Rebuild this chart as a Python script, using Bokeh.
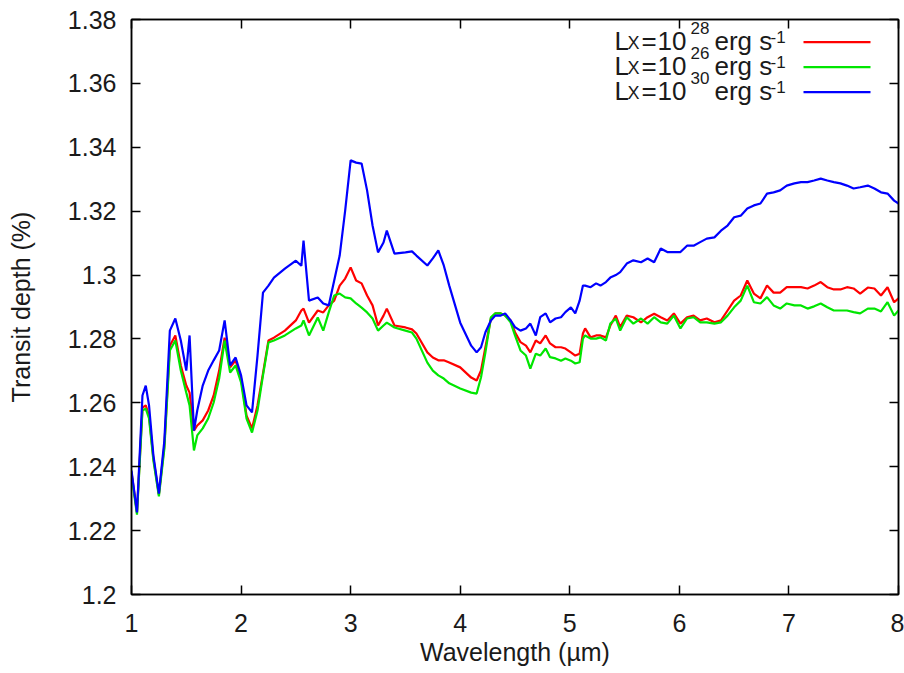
from bokeh.plotting import figure
from bokeh.models import (LinearAxis, FixedTicker, CustomJSTickFormatter, Label,
                          Arrow, Range1d)
from bokeh.embed import file_html
from bokeh.resources import INLINE

# ---------------- data ----------------
wl_a = [1.00, 1.05, 1.10, 1.13, 1.16, 1.20, 1.25, 1.30, 1.35, 1.40,
        1.45, 1.50, 1.53, 1.57, 1.60, 1.65, 1.70, 1.75, 1.80, 1.85,
        1.90, 1.95, 2.00, 2.05, 2.10, 2.15, 2.20, 2.25, 2.30, 2.40,
        2.50, 2.55, 2.57, 2.62, 2.70, 2.75, 2.80, 2.85, 2.90, 2.95,
        3.00, 3.05, 3.10, 3.15, 3.20, 3.25, 3.30, 3.33, 3.40, 3.50,
        3.56, 3.60, 3.70, 3.75, 3.80, 3.85, 3.90, 4.00, 4.10, 4.15]
wl_b = [4.19, 4.23, 4.28, 4.32, 4.37, 4.41, 4.46, 4.50, 4.55, 4.60,
        4.64, 4.69, 4.73, 4.78, 4.82, 4.87, 4.92, 4.96, 5.01, 5.05,
        5.09, 5.12, 5.14, 5.19, 5.24, 5.28, 5.33, 5.37, 5.42]
wl_c = [5.46, 5.52, 5.58, 5.65, 5.71, 5.77, 5.83, 5.89, 5.95, 6.01,
        6.07, 6.13, 6.19, 6.25, 6.32, 6.38, 6.44, 6.50, 6.56, 6.62,
        6.68, 6.74, 6.80, 6.86, 6.92, 6.98, 7.05, 7.11, 7.17, 7.23,
        7.29, 7.35, 7.41, 7.47, 7.53, 7.59, 7.65, 7.72, 7.78, 7.84,
        7.90, 7.96, 8.00]

# L_X = 1e28 erg/s (red)
depth_lx28_a = [1.2382, 1.2257, 1.2585, 1.2592, 1.2560, 1.2426, 1.2313, 1.2466, 1.2779, 1.2811,
                1.2717, 1.2654, 1.2632, 1.2513, 1.2529, 1.2545, 1.2576, 1.2623, 1.2701, 1.2804,
                1.2711, 1.2733, 1.2676, 1.2560, 1.2520, 1.2592, 1.2692, 1.2795, 1.2804, 1.2826,
                1.2858, 1.2889, 1.2895, 1.2851, 1.2889, 1.2883, 1.2905, 1.2920, 1.2967, 1.2989,
                1.3024, 1.2983, 1.2974, 1.2936, 1.2905, 1.2842, 1.2873, 1.2895, 1.2842, 1.2836,
                1.2830, 1.2817, 1.2758, 1.2742, 1.2733, 1.2733, 1.2726, 1.2711, 1.2679, 1.2670]
depth_lx28_b = [1.2701, 1.2774, 1.2864, 1.2880, 1.2880, 1.2873, 1.2858, 1.2821, 1.2790, 1.2779,
                1.2758, 1.2795, 1.2786, 1.2811, 1.2786, 1.2774, 1.2774, 1.2770, 1.2758, 1.2748,
                1.2754, 1.2817, 1.2833, 1.2805, 1.2811, 1.2811, 1.2805, 1.2842, 1.2873]
depth_lx28_c = [1.2837, 1.2873, 1.2868, 1.2852, 1.2868, 1.2879, 1.2868, 1.2858, 1.2880, 1.2848,
                1.2868, 1.2873, 1.2858, 1.2864, 1.2852, 1.2858, 1.2889, 1.2920, 1.2936, 1.2983,
                1.2942, 1.2927, 1.2967, 1.2945, 1.2945, 1.2962, 1.2962, 1.2962, 1.2958, 1.2967,
                1.2978, 1.2962, 1.2955, 1.2955, 1.2962, 1.2958, 1.2942, 1.2961, 1.2958, 1.2936,
                1.2962, 1.2915, 1.2927]

# L_X = 1e26 erg/s (green)
depth_lx26_a = [1.2375, 1.2250, 1.2576, 1.2582, 1.2551, 1.2419, 1.2307, 1.2457, 1.2764, 1.2795,
                1.2701, 1.2632, 1.2592, 1.2451, 1.2498, 1.2520, 1.2551, 1.2601, 1.2676, 1.2795,
                1.2695, 1.2717, 1.2664, 1.2551, 1.2507, 1.2576, 1.2686, 1.2789, 1.2795, 1.2811,
                1.2833, 1.2842, 1.2858, 1.2811, 1.2867, 1.2826, 1.2883, 1.2936, 1.2942, 1.2930,
                1.2927, 1.2911, 1.2898, 1.2883, 1.2864, 1.2826, 1.2842, 1.2851, 1.2836, 1.2826,
                1.2820, 1.2801, 1.2726, 1.2701, 1.2686, 1.2676, 1.2661, 1.2645, 1.2632, 1.2629]
depth_lx26_b = [1.2680, 1.2758, 1.2868, 1.2880, 1.2880, 1.2873, 1.2852, 1.2811, 1.2764, 1.2748,
                1.2707, 1.2754, 1.2748, 1.2770, 1.2743, 1.2739, 1.2732, 1.2739, 1.2732, 1.2723,
                1.2727, 1.2801, 1.2811, 1.2801, 1.2801, 1.2805, 1.2795, 1.2848, 1.2864]
depth_lx26_c = [1.2826, 1.2868, 1.2848, 1.2864, 1.2848, 1.2868, 1.2852, 1.2848, 1.2873, 1.2833,
                1.2864, 1.2868, 1.2852, 1.2852, 1.2848, 1.2852, 1.2873, 1.2899, 1.2920, 1.2967,
                1.2915, 1.2911, 1.2931, 1.2905, 1.2895, 1.2911, 1.2905, 1.2905, 1.2895, 1.2902,
                1.2911, 1.2899, 1.2889, 1.2889, 1.2889, 1.2884, 1.2880, 1.2895, 1.2895, 1.2886,
                1.2915, 1.2873, 1.2889]

# L_X = 1e30 erg/s (blue)
depth_lx30_a = [1.2388, 1.2257, 1.2623, 1.2654, 1.2592, 1.2435, 1.2316, 1.2482, 1.2826, 1.2864,
                1.2795, 1.2701, 1.2811, 1.2513, 1.2576, 1.2654, 1.2701, 1.2733, 1.2764, 1.2858,
                1.2717, 1.2742, 1.2686, 1.2592, 1.2570, 1.2748, 1.2945, 1.2967, 1.2992, 1.3020,
                1.3045, 1.3029, 1.3108, 1.2920, 1.2930, 1.2911, 1.2905, 1.2983, 1.3061, 1.3202,
                1.3359, 1.3352, 1.3349, 1.3265, 1.3155, 1.3071, 1.3102, 1.3139, 1.3067, 1.3071,
                1.3074, 1.3061, 1.3030, 1.3052, 1.3077, 1.3030, 1.2967, 1.2851, 1.2779, 1.2758]
depth_lx30_b = [1.2774, 1.2821, 1.2858, 1.2873, 1.2873, 1.2880, 1.2858, 1.2837, 1.2826, 1.2833,
                1.2848, 1.2811, 1.2868, 1.2880, 1.2852, 1.2864, 1.2868, 1.2884, 1.2899, 1.2880,
                1.2920, 1.2967, 1.2967, 1.2962, 1.2974, 1.2967, 1.2978, 1.2992, 1.3000]
depth_lx30_c = [1.3009, 1.3036, 1.3046, 1.3040, 1.3052, 1.3040, 1.3083, 1.3072, 1.3072, 1.3072,
                1.3092, 1.3092, 1.3103, 1.3114, 1.3118, 1.3139, 1.3155, 1.3181, 1.3186, 1.3208,
                1.3218, 1.3224, 1.3255, 1.3259, 1.3265, 1.3280, 1.3287, 1.3291, 1.3291, 1.3296,
                1.3302, 1.3296, 1.3291, 1.3287, 1.3280, 1.3271, 1.3275, 1.3280, 1.3271, 1.3259,
                1.3255, 1.3233, 1.3224]

wavelength = wl_a + wl_b + wl_c
depth_lx28 = depth_lx28_a + depth_lx28_b + depth_lx28_c
depth_lx26 = depth_lx26_a + depth_lx26_b + depth_lx26_c
depth_lx30 = depth_lx30_a + depth_lx30_b + depth_lx30_c

x_ticks = [1, 2, 3, 4, 5, 6, 7, 8]
y_ticks = [1.2, 1.22, 1.24, 1.26, 1.28, 1.3, 1.32, 1.34, 1.36, 1.38]
legend_exponents = ["28", "26", "30"]

# ---------------- styling ----------------
FONT = "Liberation Sans"
TXT = "#1a1a1a"
colors = ["#ff0000", "#00e600", "#0000ff"]

p = figure(width=904, height=673, output_backend="svg", toolbar_location=None,
           x_range=Range1d(1, 8), y_range=Range1d(1.2, 1.38),
           min_border_left=131, min_border_right=6, min_border_top=19,
           min_border_bottom=79, x_axis_label="Wavelength (µm)",
           y_axis_label="Transit depth (%)")
p.grid.visible = False
p.outline_line_color = "black"
p.outline_line_width = 1.5
p.background_fill_color = "white"
p.border_fill_color = "white"

for series, col in zip([depth_lx28, depth_lx26, depth_lx30], colors):
    p.line(wavelength, series, line_color=col, line_width=2.2)

fmt = CustomJSTickFormatter(code="return Number(tick.toFixed(2)).toString();")
blank = CustomJSTickFormatter(code="return '';")

def style_axis(ax, ticks, labels=True):
    ax.ticker = FixedTicker(ticks=ticks)
    ax.major_tick_in = 9
    ax.major_tick_out = 0
    ax.minor_tick_line_color = None
    ax.major_tick_line_color = "black"
    ax.major_tick_line_width = 1.5
    ax.axis_line_color = "black"
    ax.axis_line_width = 1.5
    if labels:
        ax.formatter = fmt
        ax.major_label_text_font = FONT
        ax.major_label_text_font_size = "25px"
        ax.major_label_text_color = TXT
        ax.axis_label_text_font = FONT
        ax.axis_label_text_font_size = "25px"
        ax.axis_label_text_font_style = "normal"
        ax.axis_label_text_color = TXT
    else:
        ax.formatter = blank
        ax.major_label_text_font_size = "8px"
        ax.major_label_standoff = 0

xa = p.xaxis[0]
ya = p.yaxis[0]
style_axis(xa, x_ticks)
style_axis(ya, y_ticks)
xa.major_label_standoff = 19
xa.axis_label_standoff = 3
ya.major_label_standoff = 15
ya.axis_label_standoff = 30

top_ax = LinearAxis()
right_ax = LinearAxis()
style_axis(top_ax, x_ticks, labels=False)
style_axis(right_ax, y_ticks, labels=False)
p.add_layout(top_ax, "above")
p.add_layout(right_ax, "right")

# ---------------- frame-relative text helpers ----------------
FL, FB, FR = 131, 594, 898   # frame left / bottom / right on the page

def put(text, px, py, size, align="left", baseline="alphabetic"):
    p.add_layout(Label(x=px - FL, y=FB - py, x_units="screen", y_units="screen",
                       text=text, text_font=FONT, text_font_size=f"{size}px",
                       text_color=TXT, text_baseline=baseline, text_align=align))

# ---------------- legend (gnuplot-style, text + sample lines) ----------------
for i, (exp, col) in enumerate(zip(legend_exponents, colors)):
    b = 48.3 + 25.2 * i - 8
    put("L", 614, b, 26)
    put("X", 627, b + 2, 18)
    put("=", 641, b, 26)
    put("10", 657, b, 26)
    put(exp, 690, b - 13, 17)
    put("erg s", 714, b, 26)
    put("-1", 770, b - 4, 17)
    ly = 41.7 + 25 * i
    p.add_layout(Arrow(end=None, x_start=803 - FL, y_start=FB - ly,
                       x_end=870 - FL, y_end=FB - ly,
                       start_units="screen", end_units="screen",
                       line_color=col, line_width=2.2))

open("out.html", "w").write(file_html(p, INLINE))
